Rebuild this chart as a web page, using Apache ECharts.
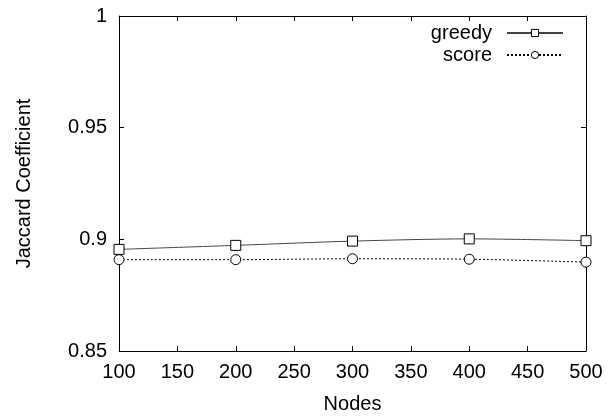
<!DOCTYPE html>
<html>
<head>
<meta charset="utf-8">
<style>
  html, body { margin: 0; padding: 0; background: #fff; }
  #chart { width: 613px; height: 419px; }
</style>
<script src="https://cdn.jsdelivr.net/npm/echarts@6/dist/echarts.min.js"></script>
</head>
<body>
<div id="chart"></div>
<script>
// values
var nodes = [100, 200, 300, 400, 500];
var greedy = [0.8955, 0.8973, 0.8992, 0.9002, 0.8994];
var score = [0.8909, 0.8909, 0.8913, 0.8911, 0.8898];

function pairs(xs, ys) {
  var out = [];
  for (var i = 0; i < xs.length; i++) out.push([xs[i], ys[i]]);
  return out;
}

var font = 'Liberation Sans';
var chart = echarts.init(document.getElementById('chart'));
chart.setOption({
  animation: false,
  textStyle: { fontFamily: font },
  grid: { left: 119, right: 27, top: 16, bottom: 63 },
  legend: {
    top: 17, right: 44,
    orient: 'vertical',
    align: 'right',
    itemWidth: 56, itemHeight: 9, itemGap: 0,
    textStyle: { fontFamily: font, fontSize: 20, lineHeight: 20, color: '#000', padding: [2, 10, 0, 0] },
    itemStyle: { borderWidth: 1 },
    data: ['greedy', 'score']
  },
  xAxis: [{
    type: 'value', min: 100, max: 500, interval: 50,
    name: 'Nodes', nameLocation: 'middle', nameGap: 43,
    nameTextStyle: { fontFamily: font, fontSize: 20, color: '#000' },
    axisLine: { lineStyle: { color: '#000', width: 1 } },
    axisTick: { inside: true, length: 5, lineStyle: { color: '#000' } },
    axisLabel: { color: '#000', fontSize: 20, margin: 11 },
    splitLine: { show: false }
  }, {
    type: 'value', position: 'top', min: 100, max: 500, interval: 50,
    axisLine: { show: true, lineStyle: { color: '#000', width: 1 } },
    axisTick: { inside: true, length: 5, lineStyle: { color: '#000' } },
    axisLabel: { show: false },
    splitLine: { show: false }
  }],
  yAxis: [{
    type: 'value', min: 0.85, max: 1, interval: 0.05,
    name: 'Jaccard Coefficient', nameLocation: 'middle', nameGap: 85,
    nameTextStyle: { fontFamily: font, fontSize: 20, color: '#000' },
    axisLine: { show: true, lineStyle: { color: '#000', width: 1 } },
    axisTick: { show: true, inside: true, length: 5, lineStyle: { color: '#000' } },
    axisLabel: { color: '#000', fontSize: 20, margin: 12 },
    splitLine: { show: false }
  }, {
    type: 'value', position: 'right', min: 0.85, max: 1, interval: 0.05,
    axisLine: { show: true, lineStyle: { color: '#000', width: 1 } },
    axisTick: { show: true, inside: true, length: 5, lineStyle: { color: '#000' } },
    axisLabel: { show: false },
    splitLine: { show: false }
  }],
  series: [{
    name: 'greedy', type: 'line', smooth: 0.3,
    data: pairs(nodes, greedy),
    symbol: 'rect', symbolSize: 10,
    lineStyle: { color: '#444', width: 1 },
    itemStyle: { color: '#fff', borderColor: '#000', borderWidth: 1 }
  }, {
    name: 'score', type: 'line', smooth: 0.3,
    data: pairs(nodes, score),
    symbol: 'circle', symbolSize: 10,
    lineStyle: { color: '#000', width: 1, type: [2, 2] },
    itemStyle: { color: '#fff', borderColor: '#000', borderWidth: 1 }
  }]
});
</script>
</body>
</html>
